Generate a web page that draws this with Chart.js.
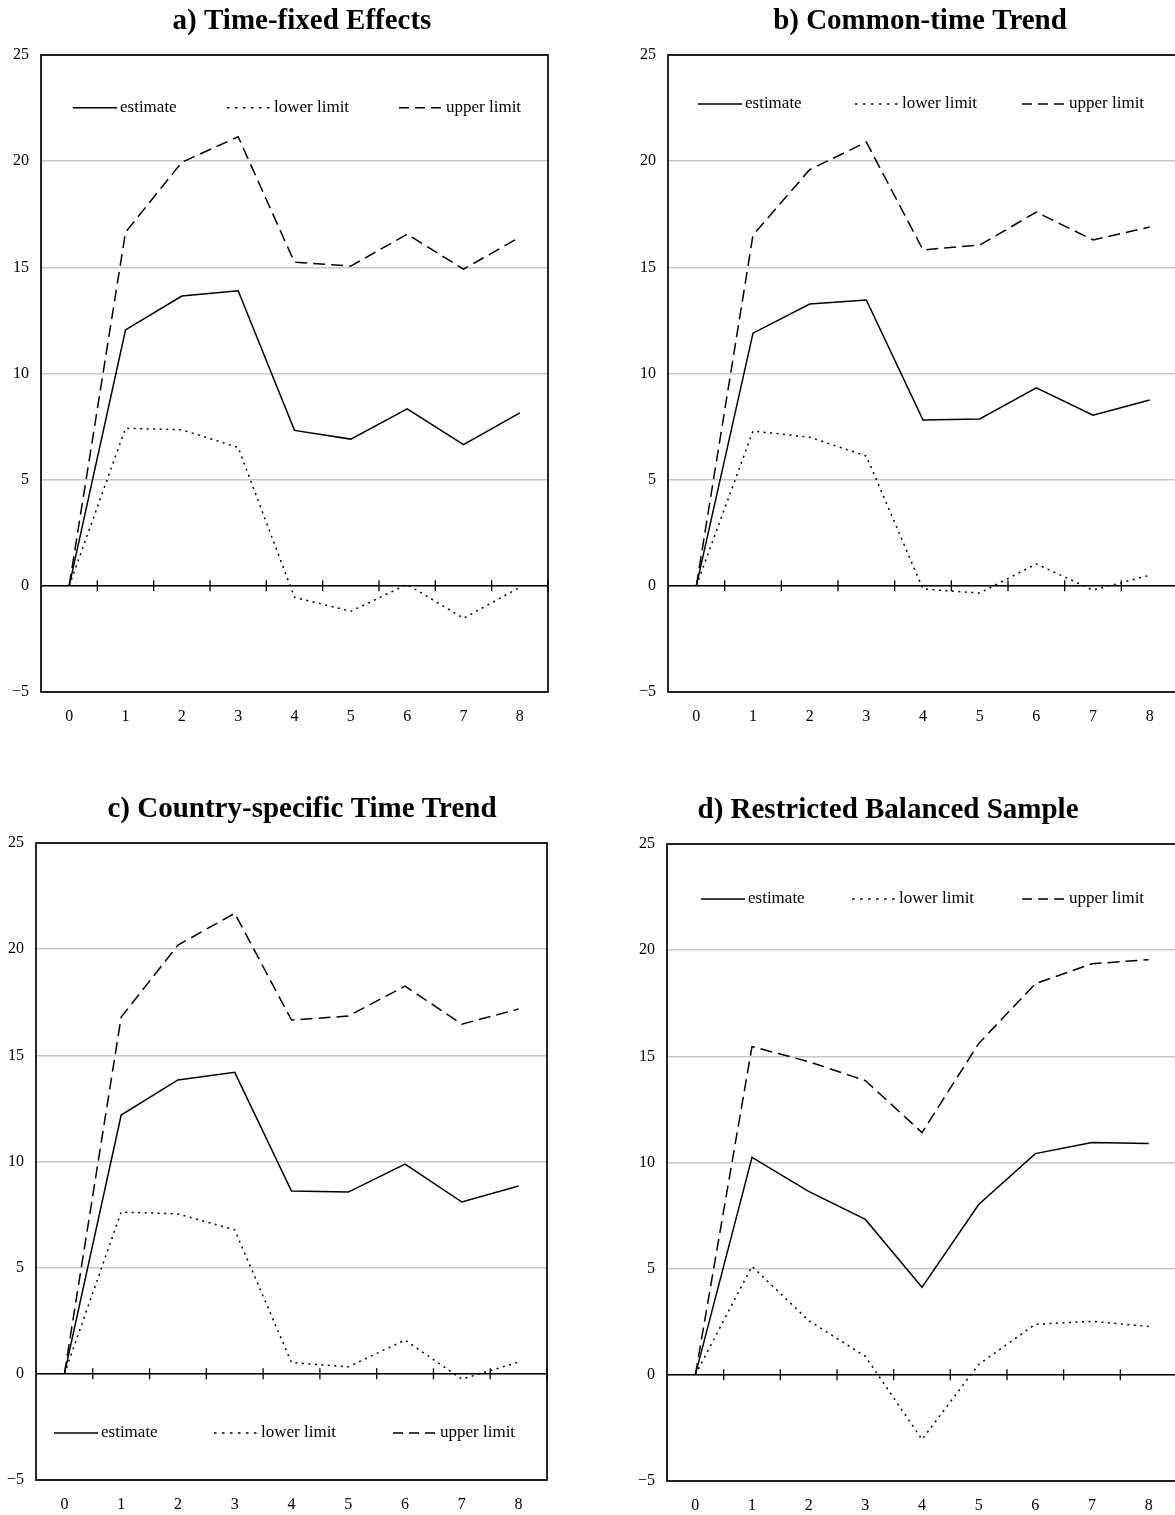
<!DOCTYPE html>
<html>
<head>
<meta charset="utf-8">
<script src="https://cdn.jsdelivr.net/npm/chart.js@4.4.1/dist/chart.umd.min.js"></script>
<style>
html, body { margin: 0; padding: 0; background: #fff; overflow: hidden; width: 1175px; height: 1515px; position: relative; }
canvas { position: absolute; }
</style>
</head>
<body>
<canvas id="panelA"></canvas>
<canvas id="panelB"></canvas>
<canvas id="panelC"></canvas>
<canvas id="panelD"></canvas>
<script>
// ---------- data ----------
const horizons = ['0', '1', '2', '3', '4', '5', '6', '7', '8'];
const seriesNames = ['estimate', 'lower limit', 'upper limit'];
const yTickValues = [-5, 0, 5, 10, 15, 20, 25];

const titleA = 'a) Time-fixed Effects';
const titleB = 'b) Common-time Trend';
const titleC = 'c) Country-specific Time Trend';
const titleD = 'd) Restricted Balanced Sample';

const estimateA = [0, 12.05, 13.65, 13.9, 7.32, 6.91, 8.33, 6.65, 8.15];
const lowerA    = [0, 7.42, 7.35, 6.52, -0.54, -1.2, 0.07, -1.53, -0.07];
const upperA    = [0, 16.65, 19.95, 21.15, 15.24, 15.06, 16.56, 14.91, 16.42];

const estimateB = [0, 11.9, 13.27, 13.46, 7.81, 7.86, 9.32, 8.04, 8.75];
const lowerB    = [0, 7.29, 7.0, 6.11, -0.15, -0.34, 1.03, -0.2, 0.5];
const upperB    = [0, 16.52, 19.6, 20.9, 15.82, 16.05, 17.6, 16.29, 16.9];

const estimateC = [0, 12.19, 13.84, 14.2, 8.61, 8.56, 9.88, 8.09, 8.85];
const lowerC    = [0, 7.62, 7.53, 6.78, 0.53, 0.33, 1.59, -0.25, 0.55];
const upperC    = [0, 16.8, 20.19, 21.69, 16.66, 16.85, 18.26, 16.47, 17.18];

const estimateD = [0, 10.24, 8.64, 7.32, 4.12, 8.02, 10.42, 10.94, 10.89];
const lowerD    = [0, 5.11, 2.56, 0.87, -3.04, 0.49, 2.38, 2.52, 2.28];
const upperD    = [0, 15.46, 14.75, 13.86, 11.41, 15.6, 18.42, 19.36, 19.55];

// ---------- styling ----------
const SERIF = "'Liberation Serif', 'Times New Roman', serif";
const lineDashes = [[], [2, 4.5], [12, 6]];
const legendDashes = [[], [2.5, 5.5], [10, 6]];

const framePlugin = {
  id: 'frameAndZero',
  beforeDatasetsDraw(chart) {
    const { ctx, chartArea: a, scales } = chart;
    const x = scales.x, y = scales.y;
    ctx.save();
    ctx.strokeStyle = '#000';
    ctx.setLineDash([]);
    // zero line with crossing tick marks between categories
    const y0 = y.getPixelForValue(0);
    ctx.lineWidth = 1.5;
    ctx.beginPath();
    ctx.moveTo(a.left, y0);
    ctx.lineTo(a.right, y0);
    ctx.stroke();
    const half = (x.getPixelForValue(1) - x.getPixelForValue(0)) / 2;
    ctx.lineWidth = 1.3;
    for (let i = 0; i < chart.data.labels.length; i++) {
      const px = x.getPixelForValue(i) + half;
      ctx.beginPath();
      ctx.moveTo(px, y0 - 5.5);
      ctx.lineTo(px, y0 + 5.5);
      ctx.stroke();
    }
    // frame
    ctx.lineWidth = 1.7;
    ctx.strokeRect(a.left, a.top, a.right - a.left, a.bottom - a.top);
    ctx.restore();
  }
};

const legendPlugin = {
  id: 'insideLegend',
  afterDatasetsDraw(chart, args, opts) {
    const { ctx, chartArea: a } = chart;
    const yy = a.top + opts.y;
    chart.data.datasets.forEach((ds, i) => {
      const x0 = a.left + opts.starts[i];
      ctx.save();
      ctx.strokeStyle = ds.borderColor;
      ctx.lineWidth = 1.6;
      ctx.setLineDash(legendDashes[i]);
      ctx.beginPath();
      ctx.moveTo(x0, yy);
      ctx.lineTo(x0 + opts.lineLen, yy);
      ctx.stroke();
      ctx.setLineDash([]);
      ctx.fillStyle = '#000';
      ctx.font = '17px ' + SERIF;
      ctx.textBaseline = 'middle';
      ctx.textAlign = 'left';
      ctx.fillText(ds.label, x0 + opts.lineLen + opts.textGap, yy);
      ctx.restore();
    });
  }
};

function makeChart(id, cfg) {
  const canvas = document.getElementById(id);
  canvas.width = cfg.w;
  canvas.height = cfg.h;
  canvas.style.left = cfg.left + 'px';
  canvas.style.top = cfg.top + 'px';
  canvas.style.width = cfg.w + 'px';
  canvas.style.height = cfg.h + 'px';
  const series = [cfg.est, cfg.lower, cfg.upper];
  return new Chart(canvas, {
    type: 'line',
    data: {
      labels: horizons,
      datasets: series.map((d, i) => ({
        label: seriesNames[i],
        data: d,
        borderColor: '#000',
        backgroundColor: '#000',
        borderWidth: 1.5,
        borderDash: lineDashes[i],
        pointRadius: 0,
        pointHoverRadius: 0,
        tension: 0,
        fill: false,
        yAxisID: 'y'
      }))
    },
    options: {
      responsive: false,
      animation: false,
      devicePixelRatio: 1,
      layout: { padding: cfg.pad },
      plugins: {
        legend: { display: false },
        tooltip: { enabled: false },
        title: {
          display: true,
          text: cfg.title,
          color: '#000',
          font: { family: SERIF, size: 29, weight: 'bold', lineHeight: 1.2 },
          padding: { top: 4, bottom: 16.2 }
        },
        insideLegend: cfg.legend
      },
      scales: {
        x: {
          type: 'category',
          offset: true,
          grid: { display: false, drawTicks: false },
          border: { display: false },
          ticks: { color: '#000', font: { family: SERIF, size: 16 }, padding: 15, maxRotation: 0, autoSkip: false },
          afterFit(s) { s.height = 48; }
        },
        y: {
          position: 'left',
          min: yTickValues[0],
          max: yTickValues[yTickValues.length - 1],
          grid: { color: '#c8c8c8', lineWidth: 1.5, drawTicks: false },
          border: { display: false },
          ticks: {
            color: '#000',
            font: { family: SERIF, size: 16 },
            padding: 12,
            callback: v => (v < 0 ? '\u2212' + Math.abs(v) : String(v))
          },
          afterBuildTicks(s) { s.ticks = yTickValues.map(v => ({ value: v })); },
          afterFit(s) { s.width = cfg.yW; }
        },
        ySpace: {
          type: 'linear',
          position: 'right',
          display: true,
          grid: { display: false, drawTicks: false },
          border: { display: false },
          ticks: { display: false },
          afterFit(s) { s.width = cfg.rightGap; }
        }
      }
    },
    plugins: [framePlugin, legendPlugin]
  });
}

makeChart('panelA', {
  left: 0, top: 0, w: 604, h: 740, yW: 41, rightGap: 56,
  pad: { left: 0, right: 0, top: 0, bottom: 0 },
  title: titleA, est: estimateA, lower: lowerA, upper: upperA,
  legend: { y: 52.7, starts: [32, 186, 358], lineLen: 44, textGap: 3 }
});
makeChart('panelB', {
  left: 620, top: 0, w: 600, h: 740, yW: 48, rightGap: 42,
  pad: { left: 0, right: 0, top: 0, bottom: 0 },
  title: titleB, est: estimateB, lower: lowerB, upper: upperB,
  legend: { y: 49, starts: [30, 187, 354], lineLen: 44, textGap: 3 }
});
makeChart('panelC', {
  left: 0, top: 788, w: 604, h: 740, yW: 36, rightGap: 57,
  pad: { left: 0, right: 0, top: 0, bottom: 0 },
  title: titleC, est: estimateC, lower: lowerC, upper: upperC,
  legend: { y: 590, starts: [18, 178, 357], lineLen: 44, textGap: 3 }
});
makeChart('panelD', {
  left: 590, top: 789, w: 587, h: 740, yW: 68, rightGap: 0,
  pad: { left: 9, right: 0, top: 0, bottom: 0 },
  title: titleD, est: estimateD, lower: lowerD, upper: upperD,
  legend: { y: 55, starts: [34, 185, 355], lineLen: 44, textGap: 3 }
});
</script>
</body>
</html>
